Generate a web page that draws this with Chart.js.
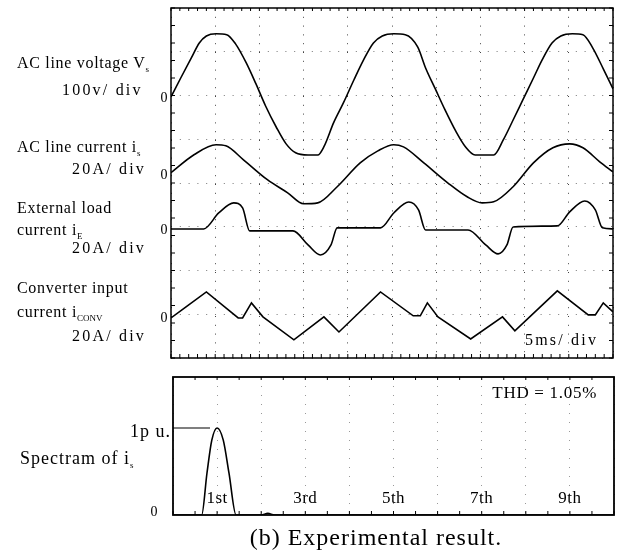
<!DOCTYPE html>
<html>
<head>
<meta charset="utf-8">
<script src="https://cdn.jsdelivr.net/npm/chart.js@4.4.0/dist/chart.umd.min.js"></script>
<style>
  body { margin: 0; background: #fff; }
  #wrap { position: relative; width: 623px; height: 551px; font-family: "Liberation Serif", "Times New Roman", serif; color: #000; }
  canvas { position: absolute; left: 0; }
  .t { position: absolute; white-space: nowrap; font-size: 16px; line-height: 16px; letter-spacing: 0.7px; }
  .l { transform: translate(0, -50%); }
  .c { transform: translate(-50%, -50%); }
  .r { transform: translate(-100%, -50%); }
  .div { letter-spacing: 2.2px; }
  sub { font-size: 9px; vertical-align: -4px; line-height: 0; letter-spacing: 0; }
</style>
</head>
<body>
<div id="wrap">
  <canvas id="scope" width="623" height="372" style="top:0"></canvas>
  <canvas id="spec" width="623" height="181" style="top:370px"></canvas>

  <div class="t l" style="left:17px;top:63px">AC line voltage V<sub>s</sub></div>
  <div class="t l div" style="left:62px;top:90px">100v/ div</div>
  <div class="t l" style="left:17px;top:147px">AC line current i<sub>s</sub></div>
  <div class="t l div" style="left:72px;top:169px">20A/ div</div>
  <div class="t l" style="left:17px;top:208px">External load</div>
  <div class="t l" style="left:17px;top:230px">current i<sub>E</sub></div>
  <div class="t l div" style="left:72px;top:248px">20A/ div</div>
  <div class="t l" style="left:17px;top:288px">Converter input</div>
  <div class="t l" style="left:17px;top:312px">current i<sub>CONV</sub></div>
  <div class="t l div" style="left:72px;top:336px">20A/ div</div>
  <div class="t l div" style="left:525px;top:340px">5ms/ div</div>

  <div class="t r" style="left:597px;top:393px;font-size:17px">THD = 1.05%</div>
  <div class="t l" style="left:20px;top:458px;font-size:18px;letter-spacing:1px">Spectram of i<sub>s</sub></div>
  <div class="t c" style="left:376px;top:537px;font-size:24px;line-height:26px;letter-spacing:1px">(b) Experimental result.</div>
</div>

<script>
// oscilloscope traces, time in ms (5 ms/div)
const vsTime = [0,1.1,2.3,3.2,4.0,5.1,6.3,7.3,8.5,9.6,10.7,11.9,13.0,14.1,15.5,16.6,17.3,18.4,19.5,20.7,21.8,22.9,23.9,25.2,26.5,27.9,28.8,29.9,31.0,32.2,33.3,34.4,36.5,37.6,38.7,39.8,41.0,42.0,43.1,44.1,45.4,46.6,47.7,48.9,50];
const vsVolts = [0,43,89,123,139,144,142,121,78,30,-21,-69,-107,-128,-133,-133,-114,-59,-14,39,85,123,139,144,142,114,66,18,-30,-78,-114,-133,-133,-98,-53,-7,43,85,123,139,144,142,112,64,18];

const isTime = [0,2.6,5.1,6.2,8.2,10.9,13.2,15.0,16.6,18.8,21.4,23.4,25.2,26.3,28.6,31.3,33.5,35.2,36.5,38.7,41.0,43.2,45.1,46.6,48.5,50];
const isAmps = [0.5,8.7,13.3,12.8,6.4,-2.7,-8.7,-13.7,-13.3,-5.9,5.0,10.5,13.3,12.3,5.0,-4.1,-10.5,-13.3,-12.8,-5.9,5.0,11.9,13.7,11.9,5.5,0.9];

const ieTime = [0,3.7,5.4,7.1,8.1,8.9,13.8,15.5,16.9,18.1,18.8,23.7,25.2,26.9,28.0,28.8,33.6,35.6,37.0,38.0,38.7,43.7,45.1,46.8,48.0,48.8,50];
const ieAmps = [0,0,7.3,11.9,9.6,-0.9,-0.9,-7.3,-11.9,-7.3,0.5,0.5,7.3,12.3,8.7,-0.5,-0.5,-7.3,-11.4,-7.3,0.9,1.4,7.8,12.8,8.7,0.5,0];

const icTime = [0,1.7,4.0,7.6,8.1,9.1,10.4,13.9,17.3,19.0,23.7,27.4,28.2,29.0,30.2,33.9,37.5,38.9,43.7,47.2,48.0,48.9,50];
const icAmps = [-0.5,4.6,11.4,-0.5,-0.5,6.4,0,-10.5,0,-6.9,11.4,0.5,0.5,6.4,0,-10.1,0,-6.4,11.9,0.9,0.9,6.4,2.3];

// screen zero of each trace (divisions from bottom) and volts/amps per div
const traceZero = [5.97, 4.21, 2.95, 0.94];
const voltsPerDiv = 100;
const ampsPerDiv = 20;

// spectrum of i_s, harmonic order vs p.u.
const specOrder = [0,0.65,0.77,0.88,1.0,1.14,1.27,1.43,2.0,2.15,2.3,10];
const specPu = [0,0,0.48,0.86,1.0,0.86,0.48,0,0,0.02,0,0];
const puRefOrder = [0, 0.84];
const puRefLevel = [1, 1];
const harmonicOrders = [1,3,5,7,9];
const harmonicLabels = ['1st','3rd','5th','7th','9th'];

const wrap = document.getElementById('wrap');
function label(html, x, y, cls, size, spacing) {
  const d = document.createElement('div');
  d.className = 't ' + cls;
  d.innerHTML = html;
  d.style.left = x + 'px';
  d.style.top = y + 'px';
  if (size) d.style.fontSize = size + 'px';
  if (spacing !== undefined) d.style.letterSpacing = spacing + 'px';
  wrap.appendChild(d);
}

function pts(xs, ys, f) {
  return xs.map((x, i) => ({x: x, y: f(ys[i])}));
}

// box + small inward ticks like a scope graticule
const frame = {
  id: 'frame',
  afterDraw(chart, args, o) {
    const {ctx, chartArea: a, scales} = chart;
    ctx.save();
    ctx.strokeStyle = '#000';
    ctx.lineWidth = 1;
    ctx.beginPath();
    for (let v = scales.x.min; v <= scales.x.max + 1e-6; v += o.xStep) {
      const px = scales.x.getPixelForValue(v);
      ctx.moveTo(px, a.bottom); ctx.lineTo(px, a.bottom - 4);
      ctx.moveTo(px, a.top); ctx.lineTo(px, a.top + 3);
    }
    if (o.yStep) {
      for (let v = scales.y.min; v <= scales.y.max + 1e-6; v += o.yStep) {
        const py = scales.y.getPixelForValue(v);
        ctx.moveTo(a.left, py); ctx.lineTo(a.left + 4, py);
        ctx.moveTo(a.right, py); ctx.lineTo(a.right - 4, py);
      }
    }
    ctx.stroke();
    ctx.lineWidth = o.lw;
    ctx.strokeRect(a.left, a.top, a.width, a.height);
    ctx.restore();
  }
};

const zeroSize = s => { s.width = 0; s.height = 0; };

const trace = {borderColor: '#000', borderWidth: 1.6, pointRadius: 0, fill: false};

const scope = new Chart(document.getElementById('scope'), {
  type: 'line',
  data: {
    datasets: [
      {...trace, label: 'Vs', data: pts(vsTime, vsVolts, v => traceZero[0] + v / voltsPerDiv), cubicInterpolationMode: 'monotone'},
      {...trace, label: 'is', data: pts(isTime, isAmps, v => traceZero[1] + v / ampsPerDiv), cubicInterpolationMode: 'monotone'},
      {...trace, label: 'iE', data: pts(ieTime, ieAmps, v => traceZero[2] + v / ampsPerDiv), cubicInterpolationMode: 'monotone'},
      {...trace, label: 'iconv', data: pts(icTime, icAmps, v => traceZero[3] + v / ampsPerDiv), tension: 0}
    ]
  },
  options: {
    responsive: false,
    animation: false,
    layout: {padding: {left: 171, right: 10, top: 8, bottom: 14}},
    plugins: {legend: {display: false}, tooltip: {enabled: false}, frame: {xStep: 1, yStep: 0.4, lw: 1.5}},
    scales: {
      x: {type: 'linear', min: 0, max: 50, ticks: {display: false, stepSize: 5}, grid: {color: '#444', lineWidth: 1, drawTicks: false}, border: {display: false, dash: [1, 7.8]}, afterFit: zeroSize},
      y: {min: 0, max: 8, ticks: {display: false, stepSize: 1}, grid: {color: '#777', lineWidth: 1, drawTicks: false}, border: {display: false, dash: [1, 7.8]}, afterFit: zeroSize}
    }
  },
  plugins: [frame]
});

const spec = new Chart(document.getElementById('spec'), {
  type: 'line',
  data: {
    datasets: [
      {...trace, label: 'spectrum', data: pts(specOrder, specPu, v => v), cubicInterpolationMode: 'monotone'},
      {...trace, borderWidth: 1.2, label: '1 pu', data: pts(puRefOrder, puRefLevel, v => v)}
    ]
  },
  options: {
    responsive: false,
    animation: false,
    layout: {padding: {left: 173, right: 9, top: 7, bottom: 36}},
    plugins: {legend: {display: false}, tooltip: {enabled: false}, frame: {xStep: 0.5, yStep: 0, lw: 1.8}},
    scales: {
      x: {type: 'linear', min: 0, max: 10, ticks: {display: false, stepSize: 1}, grid: {color: '#999', lineWidth: 1, drawTicks: false}, border: {display: false, dash: [1, 8]}, afterFit: zeroSize},
      y: {min: 0, max: 1.586, ticks: {display: false}, grid: {display: false}, border: {display: false}, afterFit: zeroSize}
    }
  },
  plugins: [frame]
});

// "0" markers at each trace's zero, placed through the scope's y scale
traceZero.forEach(z => label('0', 164, scope.scales.y.getPixelForValue(z) + 1, 'c', 14, 0));

// spectrum axis marks and harmonic names, placed through the spectrum scales
const specTop = 370;
label('0', 154, specTop + spec.scales.y.getPixelForValue(0) - 3, 'c', 14, 0);
label('1p u.', 171, specTop + spec.scales.y.getPixelForValue(1) + 3, 'r', 18, 1);
harmonicOrders.forEach((n, i) =>
  label(harmonicLabels[i], spec.scales.x.getPixelForValue(n), specTop + 128, 'c', 17, 0.5));
</script>
</body>
</html>
